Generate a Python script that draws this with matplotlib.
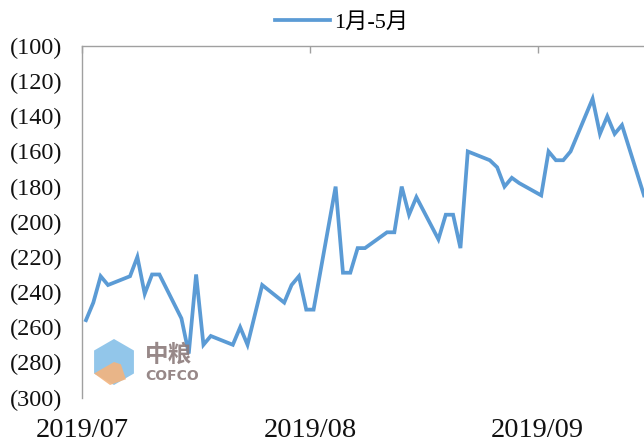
import matplotlib
matplotlib.use("Agg")
import matplotlib.pyplot as plt
from matplotlib.patches import RegularPolygon, Polygon
import pandas as pd

# ---- data ----
dates = [
    "2019-07-02", "2019-07-03", "2019-07-04", "2019-07-05",
    "2019-07-08", "2019-07-09", "2019-07-10", "2019-07-11", "2019-07-12",
    "2019-07-15", "2019-07-16", "2019-07-17", "2019-07-18", "2019-07-19",
    "2019-07-22", "2019-07-23", "2019-07-24", "2019-07-25", "2019-07-26",
    "2019-07-29", "2019-07-30", "2019-07-31", "2019-08-01", "2019-08-02",
    "2019-08-05", "2019-08-06", "2019-08-07", "2019-08-08", "2019-08-09",
    "2019-08-12", "2019-08-13", "2019-08-14", "2019-08-15", "2019-08-16",
    "2019-08-19", "2019-08-20", "2019-08-21", "2019-08-22", "2019-08-23",
    "2019-08-26", "2019-08-27", "2019-08-28", "2019-08-29", "2019-08-30",
    "2019-09-02", "2019-09-03", "2019-09-04", "2019-09-05", "2019-09-06",
    "2019-09-09", "2019-09-10", "2019-09-11", "2019-09-12", "2019-09-13",
    "2019-09-16",
]
spread_1_5 = [
    -256, -246, -231, -236,
    -231, -220, -241, -230, -230,
    -255, -275, -230, -270, -265,
    -270, -260, -270, -253, -236,
    -246, -236, -231, -250, -250,
    -180, -229, -229, -215, -215,
    -206, -206, -180, -196, -186,
    -210, -196, -196, -215, -160,
    -165, -169, -180, -175, -178,
    -185, -160, -165, -165, -160,
    -130, -150, -140, -150, -145,
    -185,
]
series_name = "1月-5月"
month_ticks = ["2019-07-01", "2019-08-01", "2019-09-01"]
month_labels = ["2019/07", "2019/08", "2019/09"]
y_ticks = [-100, -120, -140, -160, -180, -200, -220, -240, -260, -280, -300]
y_labels = ["(100)", "(120)", "(140)", "(160)", "(180)", "(200)",
            "(220)", "(240)", "(260)", "(280)", "(300)"]

# ---- figure ----
SERIF = ["Liberation Serif", "Noto Sans CJK SC", "DejaVu Sans"]
plt.rcParams["font.family"] = SERIF

fig = plt.figure(figsize=(6.44, 4.44), dpi=100)
ax = fig.add_axes([82.3 / 644, 1 - 397.5 / 444, 1 - 82.3 / 644, (397.5 - 46) / 444])

x = pd.to_datetime(dates)
line, = ax.plot(x, spread_1_5, color="#5B9BD5", lw=2.7, solid_joinstyle="miter",
                label=series_name, zorder=3)

ax.set_ylim(-300, -100)
ax.set_xlim(pd.Timestamp("2019-07-01 12:00"), pd.Timestamp("2019-09-16 00:00"))

ax.set_yticks(y_ticks)
ax.set_yticklabels(y_labels)
tick_pos = pd.to_datetime(month_ticks) + pd.Timedelta(hours=12)
ax.set_xticks(tick_pos)
ax.set_xticklabels(month_labels)

for s in ["right", "bottom"]:
    ax.spines[s].set_visible(False)
for s in ["left", "top"]:
    ax.spines[s].set_color("#A0A0A0")
    ax.spines[s].set_linewidth(1.0)

ax.tick_params(axis="y", length=0, pad=14.5, labelsize=17.5, labelcolor="#111111")
ax.tick_params(axis="x", bottom=False, top=True, labelbottom=True, labeltop=False,
               direction="in", length=5, width=1.0, color="#A0A0A0",
               pad=15, labelsize=20.5, labelcolor="#111111")

# watermark (logo), positioned in inches from the lower-left corner
tr = fig.dpi_scale_trans
cx, cy, r = 1.14, 0.82, 0.23
hexa = RegularPolygon((cx, cy), numVertices=6, radius=r, orientation=0.0,
                      transform=tr, facecolor="#86C0E8", edgecolor="none",
                      alpha=0.9, zorder=1)
fig.patches.append(hexa)
low = Polygon([(cx, cy), (cx - r * 0.866, cy - r * 0.5), (cx - r * 0.866 * 0.2, cy - r),
               (cx + r * 0.866 * 0.6, cy - r * 0.75), (cx + r * 0.3, cy - r * 0.1)],
              closed=True, transform=tr, facecolor="#F3B47E", edgecolor="none",
              alpha=0.9, zorder=1)
fig.patches.append(low)
fig.text(145 / 644, 1 - 355 / 444, "中粮", fontsize=17, color="#8C7B7B",
         family=["Noto Sans CJK SC"], va="center", ha="left", alpha=0.9,
         weight="bold")
fig.text(145 / 644, 1 - 376 / 444, "COFCO", fontsize=10, color="#8C7B7B",
         family=["DejaVu Sans"], va="center", ha="left", alpha=0.9, weight="bold")

leg = fig.legend(handles=[line], loc="center", bbox_to_anchor=(0.53, 1 - 23 / 444),
                 frameon=False, fontsize=16, handlelength=2.5, handletextpad=0.15,
                 borderaxespad=0, borderpad=0)

fig.savefig("out.png", dpi=100)
